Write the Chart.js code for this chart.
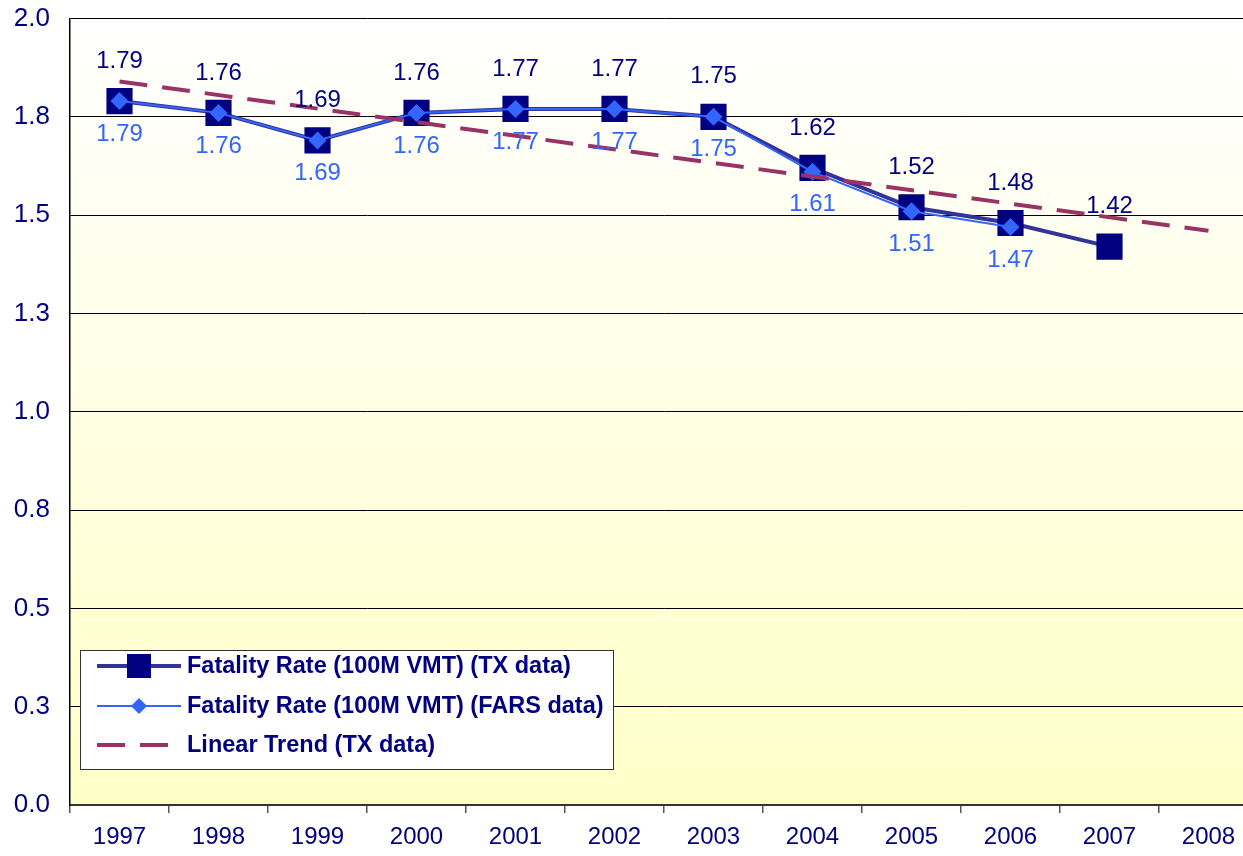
<!DOCTYPE html>
<html>
<head>
<meta charset="utf-8">
<script src="https://cdn.jsdelivr.net/npm/chart.js@4.4.0/dist/chart.umd.min.js"></script>
<style>
  html, body { margin: 0; padding: 0; background: #fff; overflow: hidden; }
  #wrap { position: relative; width: 1280px; height: 856px; }
</style>
</head>
<body>
<div id="wrap"><canvas id="chart"></canvas></div>
<script>
// values
const years = ['1997', '1998', '1999', '2000', '2001', '2002', '2003', '2004', '2005', '2006', '2007', '2008']
const txRate = [1.79, 1.76, 1.69, 1.76, 1.77, 1.77, 1.75, 1.62, 1.52, 1.48, 1.42, null]
const farsRate = [1.79, 1.76, 1.69, 1.76, 1.77, 1.77, 1.75, 1.61, 1.51, 1.47, null, null]
const trendTx = [1.84, null, null, null, null, null, null, null, null, null, null, 1.46]
const yTickLabels = ['0.0', '0.3', '0.5', '0.8', '1.0', '1.3', '1.5', '1.8', '2.0']

const NAVY = '#000080'
const FONT = "'Liberation Sans', Arial, sans-serif"

// gradient fill behind the plot
const plotBackground = {
  id: 'plotBackground',
  beforeDraw(chart) {
    const { ctx, chartArea: a } = chart
    const g = ctx.createLinearGradient(0, a.top, 0, a.bottom)
    g.addColorStop(0, '#ffffff')
    g.addColorStop(1, '#ffffc8')
    ctx.save()
    ctx.fillStyle = g
    ctx.fillRect(a.left, a.top, a.right - a.left, a.bottom - a.top)
    ctx.restore()
  }
}

// numbers above (TX) and below (FARS) the points
const valueLabels = {
  id: 'valueLabels',
  afterDatasetsDraw(chart) {
    const ctx = chart.ctx
    ctx.save()
    ctx.font = `24px ${FONT}`
    ctx.textAlign = 'center'
    ctx.textBaseline = 'middle'
    const setups = [{ index: 0, color: NAVY, dy: -40 }, { index: 1, color: '#3366ff', dy: 33 }]
    setups.forEach(s => {
      const meta = chart.getDatasetMeta(s.index)
      const data = chart.data.datasets[s.index].data
      meta.data.forEach((pt, i) => {
        if (data[i] == null) return
        ctx.fillStyle = s.color
        ctx.fillText(data[i].toFixed(2), pt.x, pt.y + s.dy)
      })
    })
    ctx.restore()
  }
}

// boxed legend sitting inside the plot
const boxLegend = {
  id: 'boxLegend',
  afterDraw(chart) {
    const ctx = chart.ctx
    const box = { left: 80.5, top: 650.5, width: 533, height: 119 }
    ctx.save()
    ctx.fillStyle = '#ffffff'
    ctx.fillRect(box.left, box.top, box.width, box.height)
    ctx.strokeStyle = '#333333'
    ctx.lineWidth = 1
    ctx.strokeRect(box.left, box.top, box.width, box.height)

    const rows = [666, 706, 745]
    const x0 = 97, x1 = 181, xm = 139
    ctx.font = `bold 23.5px ${FONT}`
    ctx.textBaseline = 'middle'
    ctx.textAlign = 'left'

    chart.data.datasets.forEach((ds, i) => {
      const y = rows[i]
      ctx.save()
      ctx.strokeStyle = ds.borderColor
      ctx.lineWidth = ds.borderWidth
      ctx.setLineDash(ds.borderDash || [])
      ctx.beginPath()
      ctx.moveTo(x0, y)
      ctx.lineTo(x1, y)
      ctx.stroke()
      ctx.restore()
      if (i === 0) {
        ctx.fillStyle = ds.pointBackgroundColor
        ctx.fillRect(xm - 12, y - 12, 24, 24)
      } else if (i === 1) {
        ctx.fillStyle = ds.pointBackgroundColor
        ctx.beginPath()
        ctx.moveTo(xm, y - 8)
        ctx.lineTo(xm + 8, y)
        ctx.lineTo(xm, y + 8)
        ctx.lineTo(xm - 8, y)
        ctx.closePath()
        ctx.fill()
      }
      ctx.fillStyle = NAVY
      ctx.fillText(ds.label, 187, y + 1)
    })
    ctx.restore()
  }
}

new Chart(document.getElementById('chart'), {
  type: 'line',
  data: {
    labels: years,
    datasets: [
      {
        label: 'Fatality Rate (100M VMT) (TX data)',
        data: txRate,
        borderColor: '#333399',
        borderWidth: 4,
        pointStyle: 'rect',
        pointRadius: 18.5,
        pointBackgroundColor: NAVY,
        pointBorderColor: NAVY,
        pointBorderWidth: 0,
        tension: 0,
        order: 2
      },
      {
        label: 'Fatality Rate (100M VMT) (FARS data)',
        data: farsRate,
        borderColor: '#3366ff',
        borderWidth: 2,
        pointStyle: 'rectRot',
        pointRadius: 9,
        pointBackgroundColor: '#3366ff',
        pointBorderColor: '#3366ff',
        pointBorderWidth: 0,
        tension: 0,
        order: 1
      },
      {
        label: 'Linear Trend (TX data)',
        data: trendTx,
        borderColor: '#993366',
        borderWidth: 4,
        borderDash: [28, 15],
        pointRadius: 0,
        spanGaps: true,
        tension: 0,
        order: 0
      }
    ]
  },
  options: {
    responsive: true,
    maintainAspectRatio: false,
    animation: false,
    layout: { padding: { top: 17, right: 22, bottom: 0, left: 0 } },
    plugins: {
      legend: { display: false },
      tooltip: { enabled: false }
    },
    scales: {
      x: {
        offset: true,
        afterFit: (scale) => { scale.height = 51 },
        grid: {
          offset: true,
          drawOnChartArea: false,
          drawTicks: true,
          tickLength: 8,
          color: '#555555',
          lineWidth: 1.5
        },
        border: { color: '#333333', width: 2 },
        ticks: { color: NAVY, font: { family: FONT, size: 24 }, padding: 10, maxRotation: 0 }
      },
      y: {
        min: 0,
        max: 2,
        afterFit: (scale) => {
          scale.width = 70
          scale.paddingTop = 0
          scale.paddingBottom = 0
        },
        afterBuildTicks: (scale) => {
          scale.ticks = yTickLabels.map((t, i) => ({ value: i * 0.25 }))
        },
        ticks: {
          color: NAVY,
          font: { family: FONT, size: 26 },
          padding: 20,
          callback: (value, index) => yTickLabels[index]
        },
        grid: { color: '#000000', lineWidth: 1, drawTicks: false },
        border: { color: '#000000', width: 1.5 }
      }
    }
  },
  plugins: [plotBackground, valueLabels, boxLegend]
})
</script>
</body>
</html>
